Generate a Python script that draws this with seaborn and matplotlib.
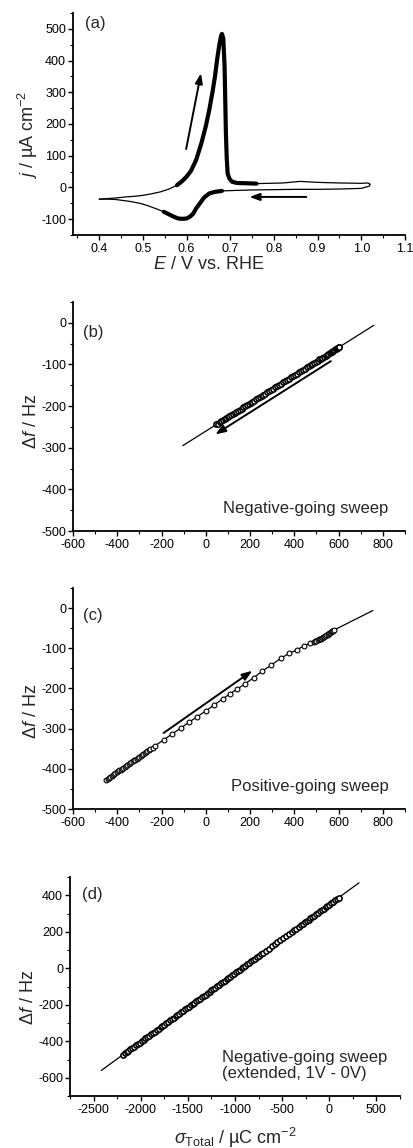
import numpy as np
import pandas as pd
import matplotlib
matplotlib.use("Agg")
import matplotlib.pyplot as plt
from matplotlib.ticker import MultipleLocator
import seaborn as sns

# ---------------- data ----------------
# (a) cyclic voltammogram, positive-going sweep
cv_pos_E = [0.400, 0.420, 0.440, 0.460, 0.480, 0.500, 0.520, 0.540, 0.560, 0.578,
            0.590, 0.600, 0.610, 0.622, 0.634, 0.644, 0.652, 0.659, 0.665, 0.670,
            0.675, 0.679, 0.681, 0.684, 0.687, 0.690, 0.692, 0.694, 0.698, 0.704,
            0.715, 0.741, 0.760, 0.820, 0.860, 0.900, 0.950, 1.000, 1.015, 1.020]
cv_pos_j = [-37, -35, -33, -30, -28, -25, -20, -14, -5, 7,
            20, 34, 52, 87, 140, 193, 245, 298, 350, 404,
            450, 478, 484, 470, 383, 171, 90, 44, 28, 18,
            14, 13, 12, 14, 19, 16, 14, 13, 14, 10]
# (a) negative-going sweep
cv_neg_E = [1.020, 1.018, 1.000, 0.950, 0.900, 0.850, 0.800, 0.749, 0.700, 0.681,
            0.665, 0.652, 0.640, 0.630, 0.622, 0.615, 0.608, 0.600, 0.590, 0.581,
            0.570, 0.560, 0.548, 0.530, 0.510, 0.496, 0.470, 0.437, 0.420, 0.400]
cv_neg_j = [10, 4, -3, -5, -6, -6, -7, -8, -10, -11,
            -14, -19, -32, -51, -66, -83, -92, -98, -99, -98,
            -92, -85, -77, -67, -57, -51, -44, -38, -37, -37]

# (b) negative-going sweep: data and linear fit
b_sigma = [48, 55, 62, 70, 77, 85, 92, 100, 107, 115,
           122, 130, 138, 146, 154, 162, 170, 178, 186, 194,
           202, 210, 218, 226, 235, 243, 252, 260, 269, 278,
           287, 296, 305, 314, 323, 332, 341, 350, 359, 368,
           377, 386, 395, 404, 413, 422, 431, 440, 449, 458,
           466, 474, 482, 490, 498, 506, 513, 520, 527, 534,
           541, 548, 554, 560, 566, 571, 576, 581, 586, 590,
           594, 598, 601, 603]
b_df = [-244, -242, -239, -237, -234, -232, -229, -227, -224, -222,
        -219, -217, -214, -211, -209, -206, -203, -200, -198, -195,
        -192, -190, -187, -184, -181, -179, -176, -173, -170, -167,
        -164, -161, -158, -155, -152, -149, -146, -143, -140, -137,
        -134, -131, -128, -125, -122, -119, -116, -113, -110, -107,
        -104, -101, -99, -96, -93, -91, -88, -86, -84, -81,
        -79, -77, -75, -73, -71, -69, -67, -65, -64, -62,
        -61, -60, -59, -58]
b_fit_sigma = [-104, 759]
b_fit_df = [-295, -6]

# (c) positive-going sweep
c_sigma = [-450, -444, -438, -432, -426, -420, -414, -408, -402, -396,
           -390, -384, -378, -372, -366, -360, -354, -348, -342, -336,
           -330, -324, -318, -312, -306, -300, -294, -288, -282, -276,
           -270, -264, -258, -250, -240, -228, -190, -152, -114, -76,
           -38, 0, 38, 76, 108, 143, 179, 217, 255, 296,
           338, 376, 411, 444, 470, 489, 495, 500, 505, 510,
           515, 520, 525, 530, 535, 540, 545, 550, 554, 558,
           562, 565, 568, 572, 575, 578]
c_df = [-427, -425, -422, -420, -418, -416, -413, -411, -409, -406,
        -404, -402, -400, -397, -395, -393, -390, -388, -386, -384,
        -381, -379, -377, -375, -372, -370, -368, -365, -363, -361,
        -359, -356, -354, -351, -347, -342, -328, -313, -299, -284,
        -270, -256, -241, -226, -214, -201, -188, -173, -157, -142,
        -125, -113, -104, -94, -88, -84, -82, -81, -80, -78,
        -77, -76, -74, -73, -71, -70, -68, -66, -65, -63,
        -61, -59, -58, -57, -56, -55]
c_line_sigma = [-456, -450]
c_line_df = [-429, -427]
c_ext_sigma = [578, 755]
c_ext_df = [-55, -6]

# (d) extended negative-going sweep
d_sigma = [-2190, -2170, -2150, -2130, -2110, -2090, -2070, -2050, -2030, -2010,
           -1990, -1970, -1950, -1930, -1910, -1890, -1870, -1850, -1830, -1810,
           -1790, -1770, -1750, -1730, -1710, -1690, -1670, -1650, -1630, -1610,
           -1590, -1570, -1550, -1530, -1510, -1490, -1470, -1450, -1430, -1410,
           -1390, -1370, -1350, -1330, -1310, -1290, -1270, -1250, -1230, -1210,
           -1190, -1170, -1150, -1130, -1110, -1090, -1070, -1050, -1030, -1010,
           -990, -970, -950, -930, -910, -890, -870, -850, -830, -810,
           -790, -770, -750, -725, -700, -670, -640, -610, -580, -550,
           -520, -490, -460, -430, -400, -375, -350, -325, -300, -280,
           -260, -240, -220, -200, -180, -160, -140, -120, -100, -80,
           -60, -40, -20, 0, 20, 40, 60, 80, 100]
d_df = [-474, -467, -459, -452, -444, -437, -429, -422, -414, -407,
        -399, -392, -384, -377, -369, -362, -354, -347, -339, -332,
        -324, -317, -309, -302, -294, -286, -279, -271, -264, -256,
        -249, -241, -234, -226, -219, -211, -204, -196, -189, -181,
        -174, -166, -159, -151, -144, -136, -129, -121, -114, -106,
        -98, -91, -83, -76, -68, -61, -53, -46, -38, -31,
        -23, -16, -8, -1, 7, 14, 22, 29, 37, 44,
        52, 60, 67, 76, 86, 97, 108, 120, 131, 142,
        154, 165, 176, 187, 199, 208, 217, 227, 236, 244,
        251, 259, 266, 274, 281, 289, 296, 304, 311, 319,
        326, 334, 341, 349, 357, 364, 372, 379, 387]
d_fit_sigma = [-2418, 315]
d_fit_df = [-560, 468]

# ---------------- style ----------------
sns.set_style("ticks")
plt.rcParams.update({
    "font.family": ["Liberation Sans", "DejaVu Sans"],
    "mathtext.fontset": "custom",
    "mathtext.rm": "Liberation Sans",
    "mathtext.it": "Liberation Sans:italic",
    "mathtext.bf": "Liberation Sans:bold",
    "axes.unicode_minus": False,
    "xtick.direction": "out",
    "ytick.direction": "out",
    "xtick.major.size": 3.5,
    "ytick.major.size": 3.5,
    "xtick.minor.size": 2,
    "ytick.minor.size": 2,
    "xtick.major.width": 1.0,
    "ytick.major.width": 1.0,
    "xtick.minor.width": 0.8,
    "ytick.minor.width": 0.8,
    "axes.linewidth": 1.3,
    "axes.edgecolor": "black",
    "xtick.color": "black",
    "ytick.color": "black",
    "xtick.labelsize": 9,
    "ytick.labelsize": 9,
    "xtick.major.pad": 2,
    "ytick.major.pad": 1.5,
})

W, H = 413, 1148
fig = plt.figure(figsize=(W / 100, H / 100), dpi=100)


def make_ax(left, right, top, bottom):
    return fig.add_axes([left / W, 1 - bottom / H, (right - left) / W, (bottom - top) / H])


ax_a = make_ax(73, 405, 13, 235)
ax_b = make_ax(73, 405, 302, 531)
ax_c = make_ax(73, 405, 588, 809)
ax_d = make_ax(70, 400, 877, 1096)

K = "black"
arrow_kw = dict(arrowstyle="-|>,head_length=0.6,head_width=0.22", color=K, lw=1.4,
                shrinkA=0, shrinkB=0)
mk = dict(marker="o", s=12, facecolor="white", edgecolor=K, linewidth=0.8, zorder=3)
mk_dense = dict(marker="o", s=14, facecolor="white", edgecolor=K, linewidth=1.15, zorder=3)

# ---------------- (a) ----------------
ax = ax_a
sns.lineplot(x=cv_pos_E, y=cv_pos_j, sort=False, estimator=None, color=K, lw=0.9, ax=ax)
sns.lineplot(x=cv_neg_E, y=cv_neg_j, sort=False, estimator=None, color=K, lw=0.9, ax=ax)
pE = np.array(cv_pos_E); pj = np.array(cv_pos_j)
m = (pE >= 0.578) & (pE <= 0.76)
sns.lineplot(x=pE[m], y=pj[m], sort=False, estimator=None, color=K, lw=3.0, ax=ax)
nE = np.array(cv_neg_E); nj = np.array(cv_neg_j)
m = (nE >= 0.548) & (nE <= 0.681)
sns.lineplot(x=nE[m], y=nj[m], sort=False, estimator=None, color=K, lw=3.0, ax=ax)
ax.annotate("", xy=(0.633, 360), xytext=(0.599, 121), arrowprops=arrow_kw)
ax.annotate("", xy=(0.744, -30), xytext=(0.874, -30), arrowprops=arrow_kw)
ax.set_xlim(0.34, 1.1)
ax.set_ylim(-150, 550)
ax.xaxis.set_minor_locator(MultipleLocator(0.05))
ax.yaxis.set_major_locator(MultipleLocator(100))
ax.yaxis.set_minor_locator(MultipleLocator(50))
ax.set_xticks([0.4, 0.5, 0.6, 0.7, 0.8, 0.9, 1.0, 1.1])
ax.set_xticklabels(["0.4", "0.5", "0.6", "0.7", "0.8", "0.9", "1.0", "1.1"])
ax.set_xlabel("$E$ / V vs. RHE", fontsize=13)
ax.set_ylabel("$j$ / µA cm$^{-2}$", fontsize=13)
ax.xaxis.set_label_coords(0.41, -0.095)
ax.yaxis.set_label_coords(-0.10, 0.45)
ax.text(0.035, 0.985, "(a)", transform=ax.transAxes, fontsize=12, va="top", ha="left")

# ---------------- (b) ----------------
ax = ax_b
sns.lineplot(x=b_fit_sigma, y=b_fit_df, sort=False, estimator=None, color=K, lw=0.9, ax=ax)
sns.scatterplot(x=b_sigma, y=b_df, ax=ax, **mk_dense)
ax.annotate("", xy=(43, -268), xytext=(565, -92), arrowprops=arrow_kw)
ax.set_xlim(-600, 900)
ax.set_ylim(-500, 50)
ax.xaxis.set_major_locator(MultipleLocator(200))
ax.xaxis.set_minor_locator(MultipleLocator(100))
ax.yaxis.set_major_locator(MultipleLocator(100))
ax.yaxis.set_minor_locator(MultipleLocator(50))
ax.set_ylabel("Δ$f$ / Hz", fontsize=13)
ax.yaxis.set_label_coords(-0.10, 0.48)
ax.text(0.03, 0.90, "(b)", transform=ax.transAxes, fontsize=12, va="top", ha="left")
ax.text(0.95, 0.08, "Negative-going sweep", transform=ax.transAxes, fontsize=12,
        va="baseline", ha="right")

# ---------------- (c) ----------------
ax = ax_c
sns.lineplot(x=c_sigma, y=c_df, sort=False, estimator=None, color=K, lw=0.9, ax=ax)
sns.lineplot(x=c_line_sigma, y=c_line_df, sort=False, estimator=None, color=K, lw=0.9, ax=ax)
sns.lineplot(x=c_ext_sigma, y=c_ext_df, sort=False, estimator=None, color=K, lw=0.9, ax=ax)
sns.scatterplot(x=c_sigma, y=c_df, ax=ax, **mk)
ax.annotate("", xy=(210, -156), xytext=(-191, -311), arrowprops=arrow_kw)
ax.set_xlim(-600, 900)
ax.set_ylim(-500, 50)
ax.xaxis.set_major_locator(MultipleLocator(200))
ax.xaxis.set_minor_locator(MultipleLocator(100))
ax.yaxis.set_major_locator(MultipleLocator(100))
ax.yaxis.set_minor_locator(MultipleLocator(50))
ax.set_ylabel("Δ$f$ / Hz", fontsize=13)
ax.yaxis.set_label_coords(-0.10, 0.44)
ax.text(0.03, 0.91, "(c)", transform=ax.transAxes, fontsize=12, va="top", ha="left")
ax.text(0.95, 0.08, "Positive-going sweep", transform=ax.transAxes, fontsize=12,
        va="baseline", ha="right")

# ---------------- (d) ----------------
ax = ax_d
sns.lineplot(x=d_fit_sigma, y=d_fit_df, sort=False, estimator=None, color=K, lw=0.9, ax=ax)
sns.scatterplot(x=d_sigma, y=d_df, ax=ax, **mk_dense)
ax.set_xlim(-2750, 750)
ax.set_ylim(-700, 500)
ax.xaxis.set_major_locator(MultipleLocator(500))
ax.xaxis.set_minor_locator(MultipleLocator(250))
ax.yaxis.set_major_locator(MultipleLocator(200))
ax.yaxis.set_minor_locator(MultipleLocator(100))
ax.set_ylabel("Δ$f$ / Hz", fontsize=13)
ax.set_xlabel("$\\sigma_{\\mathrm{Total}}$ / µC cm$^{-2}$", fontsize=13)
ax.yaxis.set_label_coords(-0.10, 0.45)
ax.xaxis.set_label_coords(0.50, -0.135)
ax.text(0.035, 0.955, "(d)", transform=ax.transAxes, fontsize=12, va="top", ha="left")
ax.text(0.46, 0.07, "Negative-going sweep\n(extended, 1V - 0V)", transform=ax.transAxes,
        fontsize=12, va="bottom", ha="left", linespacing=1.05)

for a in (ax_a, ax_b, ax_c, ax_d):
    sns.despine(ax=a)
    a.tick_params(which="both", top=False, right=False)

fig.savefig("out.png", dpi=100)
